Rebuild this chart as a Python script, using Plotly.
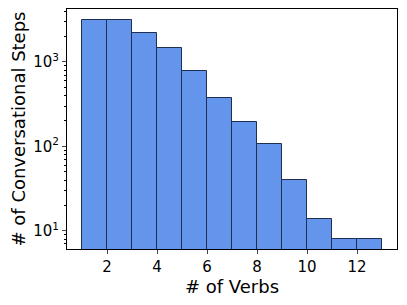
import plotly.graph_objects as go

bin_left = [1, 2, 3, 4, 5, 6, 7, 8, 9, 10, 11, 12]
counts = [3110, 3110, 2190, 1450, 776, 378, 196, 106, 40, 14, 8, 8]
x_ticks = [2, 4, 6, 8, 10, 12]
y_ticks = [10, 100, 1000]
y_ticktext = ["10<sup>1</sup>", "10<sup>2</sup>", "10<sup>3</sup>"]

centers = [b + 0.5 for b in bin_left]

fig = go.Figure()
fig.add_trace(go.Bar(
    x=centers, y=counts, width=1,
    marker=dict(color="#6495ED", line=dict(color="#1f2f4f", width=1)),
))

font = dict(family="DejaVu Sans", size=15, color="black")
fig.update_layout(
    width=407, height=305,
    margin=dict(l=67, r=10, t=9, b=56),
    plot_bgcolor="white", paper_bgcolor="white",
    font=font, showlegend=False, bargap=0,
)
fig.update_xaxes(
    range=[0.4, 13.6], tickvals=x_ticks, ticks="outside", ticklen=4, tickwidth=1,
    showgrid=False, zeroline=False, showline=True, linecolor="black", linewidth=1, mirror=True,
    title=dict(text="# of Verbs", standoff=0), tickfont=font, automargin=False,
)
fig.update_yaxes(
    type="log", range=[0.785, 3.627], tickvals=y_ticks, ticktext=y_ticktext,
    ticks="outside", ticklen=4, tickwidth=1,
    minor=dict(ticks="outside", ticklen=2, tickcolor="black", dtick="D1", showgrid=False),
    showgrid=False, zeroline=False, showline=True, linecolor="black", linewidth=1, mirror=True,
    title=dict(text="# of Conversational Steps", standoff=2), tickfont=font, automargin=False,
)
fig.write_html("out.html", config={"displayModeBar": False},
               post_script="document.body.style.margin='0';")
